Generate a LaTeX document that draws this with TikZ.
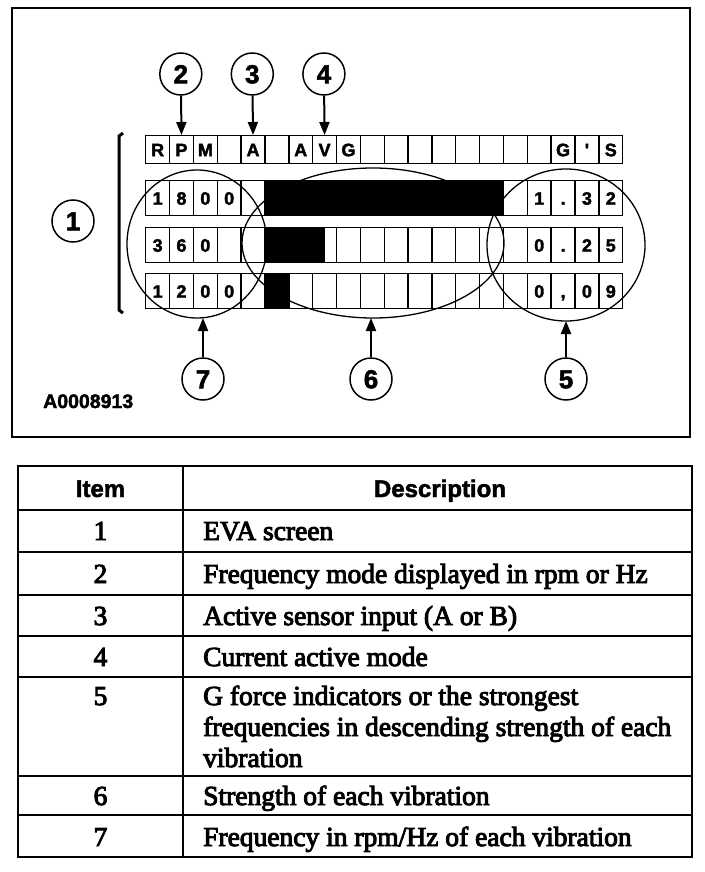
\documentclass[tikz,border=0pt]{standalone}
\usepackage{fontspec}
\setmainfont{Liberation Serif}
\newfontfamily\hsans{Liberation Sans Bold}[FakeBold=2]
\newfontfamily\bodyfont{Liberation Serif}[FakeBold=3.5]
\usetikzlibrary{shapes.geometric,arrows.meta}
\begin{document}
\begin{tikzpicture}[x=1pt,y=-1pt,
  cellbox/.style={draw,line width=1.4pt,minimum width=23.85pt,minimum height=#1,inner sep=0pt,anchor=north west,text height=13pt,text depth=0pt,font=\hsans\fontsize{18}{18}\selectfont},
  cellbox/.default=35pt,
  callout/.style={circle,draw,line width=1.5pt,minimum size=42pt,inner sep=0pt,text height=18.5pt,text depth=0pt,font=\hsans\fontsize{26}{26}\selectfont},
  pointer/.style={line width=2pt,-{Triangle[length=13pt,width=10pt]}},
  zone/.style={ellipse,draw,line width=1.3pt,inner sep=0pt,outer sep=0pt},
  rule/.style={line width=2pt},
  bodytext/.style={inner sep=0pt,font=\bodyfont\fontsize{27.5}{31}\selectfont},
  headtext/.style={inner sep=0pt,anchor=base,font=\hsans\fontsize{24}{24}\selectfont}
]
\useasboundingbox (0,0) rectangle (704,872);
\fill[white] (0,0) rectangle (704,872);

% upper figure frame
\draw[line width=2pt] (12,8) rectangle (690,437);

% display grid
\foreach \c [count=\i from 0] in {R,P,M,{},A,{},A,V,G,{},{},{},{},{},{},{},{},G,',S}
  \node[cellbox=28pt] (c-0-\i) at (145+\i*23.85,135) {\c};
\foreach \c [count=\i from 0] in {1,8,0,0,{},{},{},{},{},{},{},{},{},{},{},{},1,{.},3,2}
  \node[cellbox] (c-1-\i) at (145+\i*23.85,180) {\c};
\foreach \c [count=\i from 0] in {3,6,0,{},{},{},{},{},{},{},{},{},{},{},{},{},0,{.},2,5}
  \node[cellbox] (c-2-\i) at (145+\i*23.85,227) {\c};
\foreach \c [count=\i from 0] in {1,2,0,0,{},{},{},{},{},{},{},{},{},{},{},{},0,{,},0,9}
  \node[cellbox] (c-3-\i) at (145+\i*23.85,273) {\c};

% strength bars
\fill (c-1-5.north west) rectangle (c-1-14.south east);
\fill (c-2-5.north west) rectangle ([xshift=-11.9pt]c-2-7.south east);
\fill (c-3-5.north west) rectangle (c-3-5.south east);

% zones
\node[zone,minimum width=140pt,minimum height=148pt] (e7) at (197,244) {};
\node[zone,minimum width=262pt,minimum height=150pt] (e6) at (373,243) {};
\node[zone,minimum width=158pt,minimum height=152pt] (e5) at (566,245) {};

% bracket
\draw[line width=3pt] (123,133) -- (119,136) -- (119,310) -- (123,313);

% callouts
\node[callout] (n1) at (73,221) {1};
\node[callout] (n2) at (180.8,74) {2};
\node[callout] (n3) at (252.3,74) {3};
\node[callout] (n4) at (323.9,74) {4};
\node[callout] (n7) at (203,379) {7};
\node[callout] (n6) at (371,379) {6};
\node[callout] (n5) at (566,379) {5};

\draw[pointer] (n2) -- (c-0-1.north);
\draw[pointer] (n3) -- (c-0-4.north);
\draw[pointer] (n4) -- (c-0-7.north);
\draw[pointer] (n7.north) -- (n7.north |- e7.south);
\draw[pointer] (n6.north) -- (n6.north |- e6.south);
\draw[pointer] (n5.north) -- (n5.north |- e5.south);

\node[inner sep=0pt,anchor=base west,font=\hsans\fontsize{19.5}{20}\selectfont] (fig) at (43,408) {A0008913};

% table
\draw[line width=2.5pt] (18,466) rectangle (692,857);
\draw[rule] (183,466) -- (183,857);
\foreach \y in {510,552,595,636,677,776,815}
  \draw[rule] (18,\y) -- (692,\y);

\node[headtext] (h1) at (100.5,497) {Item};
\node[headtext] (h2) at (440,497) {Description};

\node[bodytext,anchor=base] (i1) at (100.5,540) {1};
\node[bodytext,anchor=base] (i2) at (100.5,583) {2};
\node[bodytext,anchor=base] (i3) at (100.5,625) {3};
\node[bodytext,anchor=base] (i4) at (100.5,666) {4};
\node[bodytext,anchor=base] (i5) at (100.5,705) {5};
\node[bodytext,anchor=base] (i6) at (100.5,805) {6};
\node[bodytext,anchor=base] (i7) at (100.5,846) {7};

\node[bodytext,anchor=base west] (d1) at (203,540) {EVA screen};
\node[bodytext,anchor=base west] (d2) at (203,583) {Frequency mode displayed in rpm or Hz};
\node[bodytext,anchor=base west] (d3) at (203,625) {Active sensor input (A or B)};
\node[bodytext,anchor=base west] (d4) at (203,666) {Current active mode};
\node[bodytext,anchor=base west] (d5a) at (203,705) {G force indicators or the strongest};
\node[bodytext,anchor=base west] (d5b) at (203,736) {frequencies in descending strength of each};
\node[bodytext,anchor=base west] (d5c) at (203,767) {vibration};
\node[bodytext,anchor=base west] (d6) at (203,805) {Strength of each vibration};
\node[bodytext,anchor=base west] (d7) at (203,846) {Frequency in rpm/Hz of each vibration};
\end{tikzpicture}
\end{document}
